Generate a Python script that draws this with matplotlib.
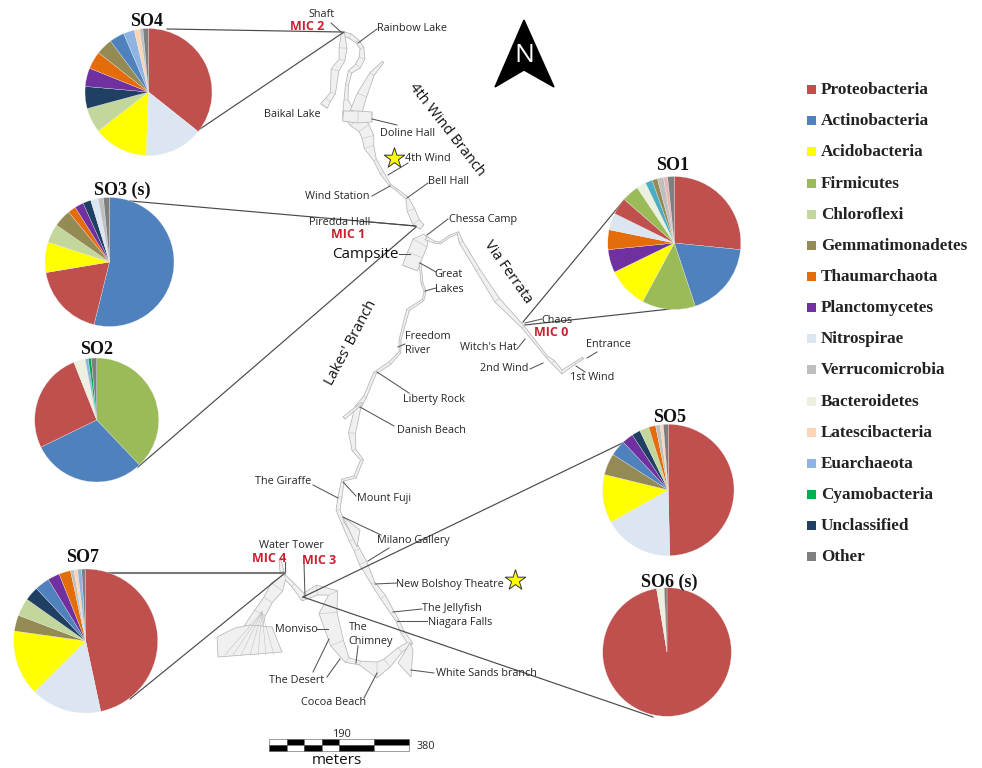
import numpy as np
import matplotlib
matplotlib.use('Agg')
import matplotlib.pyplot as plt

W, H = 982, 768
SERIF = 'Liberation Serif'
SANS = 'Open Sans'

## Phylum legend
phyla = ['Proteobacteria', 'Actinobacteria', 'Acidobacteria', 'Firmicutes', 'Chloroflexi',
         'Gemmatimonadetes', 'Thaumarchaota', 'Planctomycetes', 'Nitrospirae', 'Verrucomicrobia',
         'Bacteroidetes', 'Latescibacteria', 'Euarchaeota', 'Cyamobacteria', 'Unclassified', 'Other']
phylum_colors = ['#C0504D', '#4F81BD', '#FFFF00', '#9BBB59', '#C3D69B',
                 '#948A54', '#E46C0A', '#7030A0', '#DCE6F2', '#BFBFBF',
                 '#EBF1DE', '#FCD5B5', '#8EB4E3', '#00B050', '#1F3F63', '#7F7F7F']
COLOR = dict(zip(phyla, phylum_colors))

## Sample composition, clockwise from 12 o'clock, percent
so4_names = ['Proteobacteria', 'Nitrospirae', 'Acidobacteria', 'Chloroflexi', 'Unclassified', 'Planctomycetes',
             'Thaumarchaota', 'Gemmatimonadetes', 'Actinobacteria', 'Euarchaeota', 'Latescibacteria',
             'Verrucomicrobia', 'Other']
so4_vals = [35.7, 14.9, 13.9, 6.3, 5.6, 4.7, 4.5, 4.2, 3.8, 2.8, 1.4, 0.8, 1.4]

so3_names = ['Actinobacteria', 'Proteobacteria', 'Acidobacteria', 'Chloroflexi', 'Gemmatimonadetes', 'Thaumarchaota',
             'Planctomycetes', 'Unclassified', 'Nitrospirae', 'Verrucomicrobia', 'Other']
so3_vals = [53.8, 18.5, 7.6, 4.7, 4.4, 2.0, 2.2, 2.0, 1.9, 1.3, 1.5]

so2_names = ['Firmicutes', 'Actinobacteria', 'Proteobacteria', 'Bacteroidetes', 'Euarchaeota', 'Cyamobacteria', 'Other']
so2_vals = [37.9, 29.9, 26.2, 3.0, 0.8, 0.8, 1.4]

so1_names = ['Proteobacteria', 'Actinobacteria', 'Firmicutes', 'Acidobacteria', 'Planctomycetes', 'Thaumarchaota',
             'Nitrospirae', 'Proteobacteria', 'Firmicutes', 'Bacteroidetes', 'Cyan', 'Gemmatimonadetes',
             'Verrucomicrobia', 'Pink', 'Other']
so1_vals = [26.6, 18.3, 13.0, 9.9, 5.6, 4.8, 4.1, 4.1, 4.2, 2.3, 1.7, 1.3, 1.5, 1.0, 1.6]
COLOR['Cyan'] = '#4BACC6'
COLOR['Pink'] = '#E6B9B8'

so5_names = ['Proteobacteria', 'Nitrospirae', 'Acidobacteria', 'Gemmatimonadetes', 'Actinobacteria', 'Planctomycetes',
             'Unclassified', 'Chloroflexi', 'Thaumarchaota', 'Verrucomicrobia', 'Latescibacteria', 'Other']
so5_vals = [49.6, 17.2, 11.9, 5.3, 3.9, 2.8, 2.1, 2.3, 1.7, 1.1, 0.8, 1.2]

so6_names = ['Proteobacteria', 'Bacteroidetes', 'Other']
so6_vals = [97.4, 1.9, 0.7]

so7_names = ['Proteobacteria', 'Nitrospirae', 'Acidobacteria', 'Gemmatimonadetes', 'Chloroflexi', 'Unclassified',
             'Actinobacteria', 'Planctomycetes', 'Thaumarchaota', 'Verrucomicrobia', 'Latescibacteria', 'Euarchaeota', 'Other']
so7_vals = [46.7, 15.9, 14.7, 3.6, 4.0, 3.2, 3.3, 2.7, 2.6, 0.8, 0.8, 0.9, 0.9]

## Cave survey: passage centre lines as x, y, half width (image pixels)
main_4th = [(342,33,1.5),(350,36,2.5),(357,41,2),(362,48,2),(362,58,3),(358,66,3),(350,72,2),(347,85,1.5),(346,100,2),
            (348,112,6),(356,120,8),(364,128,6),(368,137,6),(369,147,5),(375,160,1.5),(382,173,2),(390,185,1),
            (397,190,1),(407,198,1.5),(411,210,4),(416,222,4),(422,227,3)]
baikal = [(343,33,1.5),(343,48,4),(342,60,3),(335,70,4),(333,93,2.5),(328,100,3),(324,106,4)]
doline_arm = [(383,62,1),(372,74,2.5),(362,95,5),(356,112,6)]
doline_hall = [(343,116,5),(358,117,6),(372,117,5)]
campsite = [(426,236,3),(420,243,8),(415,255,8),(410,268,8)]
via_ferrata = [(426,238,2),(434,242,1),(440,243,1),(450,236,1),(458,233,1.5),(461,242,2),(478,270,2),(497,300,3),
               (523,327,1.5),(547,357,1),(553,362,2),(562,372,2),(575,363,1),(583,358,1)]
lakes = [(420,263,1),(422,283,1),(425,292,1),(423,300,1),(408,310,1.5),(400,340,1),(400,352,1),(390,363,1.5),
         (375,373,1.5),(365,397,1.5),(358,407,3),(352,433,3.5),(354,450,2),(362,460,1.5),(355,477,1.5),(343,480,1.5),
         (340,497,2),(338,510,2),(343,523,1.5),(352,540,3),(357,550,3),(363,563,4),(373,583,2),(383,597,3),
         (397,620,1.5),(403,633,2),(410,643,3),(400,650,3),(387,663,5),(377,670,8),(360,663,2),(347,660,3),
         (337,643,7),(328,613,9),(333,593,5),(317,590,5),(303,597,4),(293,585,2),(285,577,3),(277,587,7),(268,600,5),(260,613,6),(250,635,10)]
danish_arm = [(362,403,1),(344,418,1.5)]
water_tower = [(280,560,1),(282,572,2)]
passages = [main_4th, baikal, doline_arm, doline_hall, campsite, via_ferrata, lakes, danish_arm, water_tower]

fan_x = [217, 218, 282, 272, 250, 235]
fan_y = [637, 657, 652, 627, 625, 628]
fan_spokes_x = [225, 233, 241, 250, 258, 266, 274]
white_sands_x = [410, 413, 411, 398]
white_sands_y = [643, 650, 677, 663]
milano_x = [343, 360, 357]
milano_y = [517, 530, 547]

## Text on the map: label, x, y
map_labels = [('Shaft',322,14), ('Rainbow Lake',412,28), ('Baikal Lake',292,114), ('Doline Hall',408,133),
              ('4th Wind',428,158), ('Bell Hall',449,181), ('Wind Station',337,196), ('Piredda Hall',340,222),
              ('Chessa Camp',483,219), ('Great',449,274), ('Lakes',449,289), ('Chaos',557,320),
              ("Witch's Hat",488,347), ('Entrance',608,344), ('2nd Wind',504,368), ('1st Wind',592,377),
              ('Freedom',428,336), ('River',418,350), ('Liberty Rock',434,399), ('Danish Beach',431,430),
              ('The Giraffe',283,481), ('Mount Fuji',384,498), ('Milano Gallery',413,540), ('Water Tower',291,545),
              ('New Bolshoy Theatre',450,584), ('The Jellyfish',452,608), ('Niagara Falls',460,622),
              ('Monviso',296,629), ('The',358,627), ('Chimney',371,641), ('The Desert',297,680),
              ('White Sands branch',486,673), ('Cocoa Beach',334,702), ('190',342,734), ('380',426,746)]
branch_labels = [('4th Wind Branch',447,130,-52), ('Via Ferrata',508,272,-55), ("Lakes' Branch",351,343,62)]
mic_labels = [('MIC 2',307,27), ('MIC 1',348,234), ('MIC 0',551,333), ('MIC 4',269,559), ('MIC 3',319,561)]

leaders = [((331,23),(341,32)), ((377,29),(358,43)), ((372,119),(397,125)), ((408,163),(388,175)), ((428,183),(407,198)),
           ((372,196),(390,186)), ((370,222),(415,226)), ((448,219),(427,235)), ((399,254),(410,254)), ((420,263),(436,272)),
           ((436,288),(425,291)), ((405,344),(398,347)), ((409,393),(377,372)), ((394,426),(360,407)), ((542,319),(525,323)),
           ((517,349),(525,339)), ((530,369),(543,363)), ((587,358),(597,352)), ((576,366),(585,372)), ((313,485),(338,498)),
           ((343,482),(356,496)), ((343,517),(381,535)), ((368,561),(389,548)), ((375,584),(397,583)), ((393,612),(422,609)),
           ((397,621),(427,621)), ((411,670),(434,673)), ((317,629),(328,629)), ((313,672),(329,639)), ((327,677),(340,659)),
           ((356,663),(358,646)), ((364,698),(377,673)), ((304,563),(305,597)), ((285,562),(285,573))]

# pie to sampling site
connectors = [((167,29),(342,32)), ((197,131),(344,32)), ((130,201),(416,226)), ((138,467),(416,227)),
              ((625,199),(523,322)), ((670,309),(525,325)), ((637,436),(303,597)), ((653,717),(303,597)),
              ((130,699),(285,573))]
so7_top_line = ((98,573),(285,573))

scale_edges = [269, 287, 304, 322, 339, 374, 409]
star_x = [394, 515]
star_y = [158, 580]
arrow_x = [524, 495, 524, 554]
arrow_y = [20, 87, 70, 87]
legend_y = [89.5, 120.5, 151.5, 183, 214, 245, 276, 307, 338, 369.5, 401, 432, 463, 494, 525, 556]

fig = plt.figure(figsize=(W/100, H/100), dpi=100)
ax = fig.add_axes([0, 0, 1, 1])
Y = lambda y: H - np.asarray(y, dtype=float)


def draw_passage(line):
    pts = np.array(line, dtype=float)
    xy = np.c_[pts[:, 0], Y(pts[:, 1])]
    t = np.gradient(xy, axis=0)
    t /= np.linalg.norm(t, axis=1, keepdims=True) + 1e-9
    n = np.c_[-t[:, 1], t[:, 0]] * pts[:, 2:3]
    a, b = xy + n, xy - n
    ax.fill(np.r_[a[:, 0], b[::-1, 0]], np.r_[a[:, 1], b[::-1, 1]], fc='#F0F0F0', ec='#B0B0B0', lw=0.5, zorder=2)
    for p, q in zip(a, b):
        ax.plot([p[0], q[0]], [p[1], q[1]], color='#BDBDBD', lw=0.35, zorder=2)


for line in passages:
    draw_passage(line)
ax.fill(fan_x, Y(fan_y), fc='#F0F0F0', ec='#B0B0B0', lw=0.5, zorder=2)
for sx in fan_spokes_x:
    ax.plot([sx, 262], Y([655, 612]), color='#BDBDBD', lw=0.35, zorder=2)
ax.fill(white_sands_x, Y(white_sands_y), fc='#F0F0F0', ec='#B0B0B0', lw=0.5, zorder=2)
ax.fill(milano_x, Y(milano_y), fc='#F0F0F0', ec='#B0B0B0', lw=0.5, zorder=2)

for p, q in leaders:
    ax.plot([p[0], q[0]], Y([p[1], q[1]]), color='#555555', lw=0.75, zorder=3)
for p, q in connectors:
    ax.plot([p[0], q[0]], Y([p[1], q[1]]), color='#4A4A4A', lw=0.85, zorder=3)
ax.plot([so7_top_line[0][0], so7_top_line[1][0]], Y([so7_top_line[0][1], so7_top_line[1][1]]), color='#777777', lw=1.5, zorder=3)

for name, x, y in map_labels:
    ax.text(x, Y(y + 0.5), name, family=SANS, fontsize=7.8, color='#262626', ha='center', va='center', zorder=5)
for name, x, y, rot in branch_labels:
    ax.text(x, Y(y), name, family=SANS, fontsize=10.5, color='#111111', rotation=rot, ha='center', va='center', zorder=5)
for name, x, y in mic_labels:
    ax.text(x, Y(y), name, family=SANS, fontsize=9, weight='bold', color='#C8202F', ha='center', va='center', zorder=5)
ax.text(365, Y(254), 'Campsite', family=SANS, fontsize=11, color='#111111', ha='center', va='center', zorder=5)
ax.text(337, Y(761), 'meters', family=SANS, fontsize=11, color='#111111', ha='center', va='center', zorder=5)

# scale bar
for i in range(len(scale_edges) - 1):
    x0, x1 = scale_edges[i], scale_edges[i + 1]
    top, bottom = ('white', 'black') if i % 2 == 0 else ('black', 'white')
    ax.fill([x0, x1, x1, x0], Y([739, 739, 745, 745]), fc=top, ec='#555555', lw=0.4, zorder=4)
    ax.fill([x0, x1, x1, x0], Y([745, 745, 751, 751]), fc=bottom, ec='#555555', lw=0.4, zorder=4)

ax.scatter(star_x, Y(star_y), marker='*', s=240, c='#FFFF00', edgecolors='#333333', linewidths=0.7, zorder=5)

# north arrow
ax.fill(arrow_x, Y(arrow_y), fc='black', ec='black', zorder=5)
ax.text(524, Y(55), 'N', family=SANS, fontsize=19, color='white', ha='center', va='center', zorder=6)

## Pies: title, x, y of centre, radius, slices, title position
pies = [('SO4', 148.5, 92, 63.5, so4_names, so4_vals, 147, 22),
        ('SO3 (s)', 109.5, 262, 64.5, so3_names, so3_vals, 122, 190),
        ('SO2', 96.7, 420, 62, so2_names, so2_vals, 97, 350),
        ('SO1', 674.3, 243, 66.5, so1_names, so1_vals, 673, 166),
        ('SO5', 668.3, 490, 65.7, so5_names, so5_vals, 670, 418),
        ('SO6 (s)', 667, 652, 64.3, so6_names, so6_vals, 669, 582),
        ('SO7', 85.7, 641, 72, so7_names, so7_vals, 83, 558)]
for title, cx, cy, r, names, vals, tx, ty in pies:
    ax.pie(vals, colors=[COLOR[n] for n in names], center=(cx, H - cy), radius=r, startangle=90,
           counterclock=False, wedgeprops=dict(edgecolor='#EEEEEE', linewidth=0.2, zorder=4))
    ax.text(tx, Y(ty), title, family=SERIF, weight='bold', fontsize=13, color='#111111', ha='center', va='center', zorder=6)

# legend
for name, color, y in zip(phyla, phylum_colors, legend_y):
    ax.fill([807, 816, 816, 807], Y([y - 4.5, y - 4.5, y + 4.5, y + 4.5]), fc=color, ec='none', zorder=4)
    ax.text(821, Y(y + 0.8), name, family=SERIF, weight='bold', fontsize=12.3, color='#222222', ha='left', va='center', zorder=5)

ax.set_xlim(0, W)
ax.set_ylim(0, H)
ax.set_aspect('auto')
ax.axis('off')
fig.savefig('out.png', dpi=100)
